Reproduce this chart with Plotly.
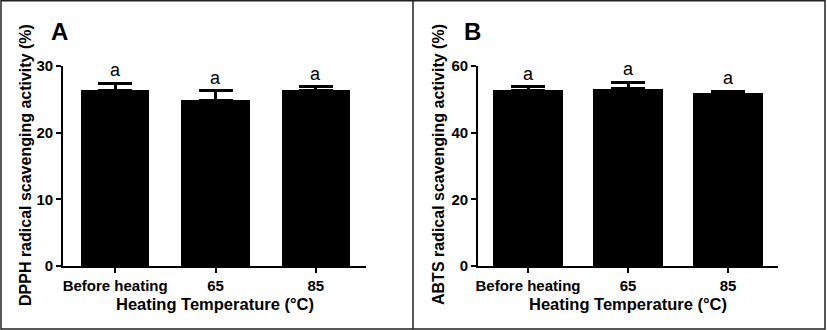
import plotly.graph_objects as go

categories = ["Before heating", "65", "85"]
dpph_values = [26.4, 24.9, 26.4]
dpph_errors = [1.0, 1.4, 0.5]
abts_values = [52.8, 53.2, 51.8]
abts_errors = [1.0, 1.9, 0.7]
letters_a = ["a", "a", "a"]
letters_b = ["a", "a", "a"]
x_title = "Heating Temperature (°C)"
y_title_a = "DPPH radical scavenging activity (%)"
y_title_b = "ABTS radical scavenging activity (%)"
panel_labels = ["A", "B"]

W, H = 827, 330
FONT = "Liberation Sans, Arial, sans-serif"

def px_x(p):
    return p / W

def px_y(p):
    return 1 - p / H

fig = go.Figure()

err_style = dict(type="data", symmetric=False, color="black", thickness=3, width=17)

fig.add_trace(go.Bar(
    x=categories, y=dpph_values, xaxis="x", yaxis="y",
    marker=dict(color="black", line=dict(width=0)), width=0.68,
    error_y=dict(array=dpph_errors, arrayminus=[0]*3, **err_style),
    showlegend=False,
))
fig.add_trace(go.Bar(
    x=categories, y=abts_values, xaxis="x2", yaxis="y2",
    marker=dict(color="black", line=dict(width=0)), width=0.7,
    error_y=dict(array=abts_errors, arrayminus=[0]*3, **err_style),
    showlegend=False,
))

axis_common = dict(
    showline=True, linecolor="black", linewidth=1.8, mirror=False,
    ticks="outside", ticklen=5, tickwidth=1.8, tickcolor="black",
    showgrid=False, zeroline=False, automargin=False,
    tickfont=dict(family=FONT, size=15, color="black", weight="bold"),
)

fig.update_layout(
    width=W, height=H, autosize=False,
    margin=dict(l=0, r=0, t=0, b=0, pad=0),
    paper_bgcolor="white", plot_bgcolor="white",
    bargap=0,
    xaxis=dict(domain=[px_x(63), px_x(366)], range=[-0.52, 2.5], anchor="y", **axis_common),
    yaxis=dict(domain=[px_y(266), px_y(66)], range=[0, 30], tickvals=[0, 10, 20, 30], anchor="x", **axis_common),
    xaxis2=dict(domain=[px_x(478), px_x(778)], range=[-0.5, 2.5], anchor="y2", **axis_common),
    yaxis2=dict(domain=[px_y(266), px_y(66)], range=[0, 60], tickvals=[0, 20, 40, 60], anchor="x2", **axis_common),
)

annotations = []
for i in range(len(categories)):
    annotations.append(dict(x=i, y=dpph_values[i] + dpph_errors[i], xref="x", yref="y",
                            text=letters_a[i], showarrow=False, yanchor="bottom", yshift=1,
                            font=dict(family=FONT, size=18, color="black")))
    annotations.append(dict(x=i, y=abts_values[i] + abts_errors[i], xref="x2", yref="y2",
                            text=letters_b[i], showarrow=False, yanchor="bottom", yshift=1,
                            font=dict(family=FONT, size=18, color="black")))

title_font = dict(family=FONT, size=16.5, color="black", weight="bold")
annotations.append(dict(x=px_x(215), y=px_y(304), xref="paper", yref="paper", text=x_title,
                        showarrow=False, xanchor="center", yanchor="middle", font=title_font))
annotations.append(dict(x=px_x(628), y=px_y(304), xref="paper", yref="paper", text=x_title,
                        showarrow=False, xanchor="center", yanchor="middle", font=title_font))
ytf = dict(family=FONT, size=16, color="black", weight="bold")
annotations.append(dict(x=px_x(25), y=px_y(165), xref="paper", yref="paper", text=y_title_a,
                        showarrow=False, xanchor="center", yanchor="middle", textangle=-90, font=ytf))
annotations.append(dict(x=px_x(438), y=px_y(165), xref="paper", yref="paper", text=y_title_b,
                        showarrow=False, xanchor="center", yanchor="middle", textangle=-90, font=ytf))
annotations.append(dict(x=px_x(59), y=px_y(32), xref="paper", yref="paper", text=panel_labels[0],
                        showarrow=False, xanchor="center", yanchor="middle",
                        font=dict(family=FONT, size=24, color="black", weight="bold")))
annotations.append(dict(x=px_x(472), y=px_y(32), xref="paper", yref="paper", text=panel_labels[1],
                        showarrow=False, xanchor="center", yanchor="middle",
                        font=dict(family=FONT, size=24, color="black", weight="bold")))
fig.update_layout(annotations=annotations)

border = dict(color="#222222", width=1.5)
fig.update_layout(shapes=[
    dict(type="rect", xref="paper", yref="paper", x0=px_x(1), x1=px_x(825), y0=px_y(329), y1=px_y(0.7), line=border),
    dict(type="line", xref="paper", yref="paper", x0=px_x(413), x1=px_x(413), y0=px_y(329), y1=px_y(0.7), line=border),
])

fig.write_html("out.html", config={"displayModeBar": False},
               post_script="document.body.style.margin='0';document.body.style.overflow='hidden';")
